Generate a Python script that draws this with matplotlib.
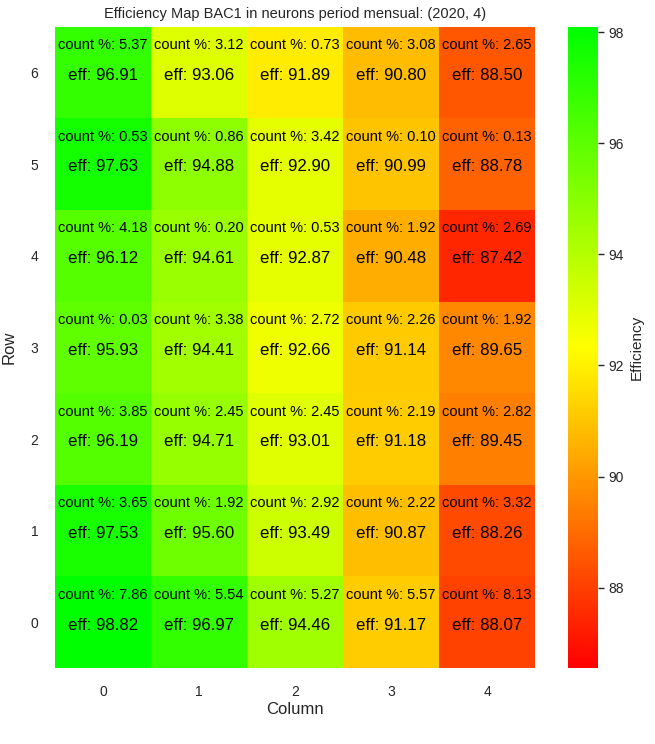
import numpy as np
import matplotlib
matplotlib.use("Agg")
import matplotlib.pyplot as plt
import seaborn as sns
from matplotlib.colors import LinearSegmentedColormap

sns.set_theme(style="white")
plt.rcParams['font.family'] = ['Liberation Sans', 'DejaVu Sans']

columns = [0, 1, 2, 3, 4]
rows = [0, 1, 2, 3, 4, 5, 6]

# efficiency per cell, row 0 first
eff = [
    [98.82, 96.97, 94.46, 91.17, 88.07],
    [97.53, 95.60, 93.49, 90.87, 88.26],
    [96.19, 94.71, 93.01, 91.18, 89.45],
    [95.93, 94.41, 92.66, 91.14, 89.65],
    [96.12, 94.61, 92.87, 90.48, 87.42],
    [97.63, 94.88, 92.90, 90.99, 88.78],
    [96.91, 93.06, 91.89, 90.80, 88.50],
]

# share of counts per cell (%), row 0 first
count_pct = [
    [7.86, 5.54, 5.27, 5.57, 8.13],
    [3.65, 1.92, 2.92, 2.22, 3.32],
    [3.85, 2.45, 2.45, 2.19, 2.82],
    [0.03, 3.38, 2.72, 2.26, 1.92],
    [4.18, 0.20, 0.53, 1.92, 2.69],
    [0.53, 0.86, 3.42, 0.10, 0.13],
    [5.37, 3.12, 0.73, 3.08, 2.65],
]

eff_arr = np.array(eff)
cnt_arr = np.array(count_pct)

cmap = LinearSegmentedColormap.from_list("ryg", ["#ff0000", "#ffff00", "#00ff00"])

fig = plt.figure(figsize=(6.55, 7.44), dpi=100)
ax = fig.add_axes([0.084, 0.102, 0.733, 0.862])
cax = fig.add_axes([0.867, 0.102, 0.046, 0.862])

mesh = ax.pcolormesh(np.arange(len(columns) + 1), np.arange(len(rows) + 1), eff_arr,
                     cmap=cmap, vmin=86.55, vmax=98.1)
ax.set_xlim(0, len(columns))
ax.set_ylim(0, len(rows))

for i in range(len(rows)):
    for j in range(len(columns)):
        ax.text(j + 0.5, i + 0.8, f"count %: {cnt_arr[i, j]:.2f}", ha="center", va="center",
                fontsize=10.5, color="black")
        ax.text(j + 0.5, i + 0.47, f"eff: {eff_arr[i, j]:.2f}", ha="center", va="center",
                fontsize=12.2, color="black")

ax.set_xticks(np.arange(len(columns)) + 0.5)
ax.set_xticklabels([str(c) for c in columns])
ax.set_yticks(np.arange(len(rows)) + 0.5)
ax.set_yticklabels([str(r) for r in rows], rotation=0)
ax.tick_params(axis="both", length=0, labelsize=10, pad=12, labelcolor="#262626")
for s in ax.spines.values():
    s.set_visible(False)
ax.set_xlabel("Column", fontsize=12, labelpad=2)
ax.set_ylabel("Row", fontsize=12, labelpad=10)
ax.set_title("Efficiency Map BAC1 in neurons period mensual: (2020, 4)", fontsize=10.5, pad=6)

cb = fig.colorbar(mesh, cax=cax)
cb.set_ticks([88, 90, 92, 94, 96, 98])
cb.outline.set_visible(False)
cax.tick_params(length=4, width=1, labelsize=10, color="#262626", labelcolor="#262626")
cb.set_label("Efficiency", fontsize=11)

fig.savefig("out.png", dpi=100)
